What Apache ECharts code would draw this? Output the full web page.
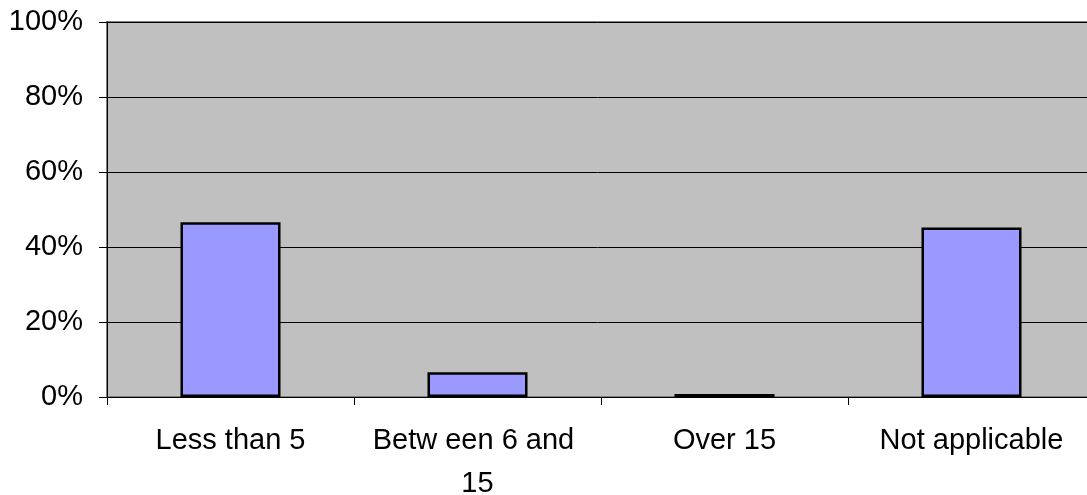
<!DOCTYPE html>
<html>
<head>
<meta charset="utf-8">
<script src="https://cdn.jsdelivr.net/npm/echarts@6/dist/echarts.min.js"></script>
<style>
html,body{margin:0;padding:0;background:#fff;}
#chart{width:1087px;height:495px;}
</style>
</head>
<body>
<div id="chart"></div>
<script>
var categories = ["Less than 5", "Betw een 6 and 15", "Over 15", "Not applicable"];
var values = [0.466, 0.066, 0.008, 0.452];
var yTicks = [0, 0.2, 0.4, 0.6, 0.8, 1.0];

var chart = echarts.init(document.getElementById('chart'), null, {renderer: 'canvas'});
var font = '"Liberation Sans", Arial, sans-serif';
chart.setOption({
  animation: false,
  grid: {
    left: 107, top: 22, right: -8, bottom: 98,
    outerBoundsMode: 'none', containLabel: false,
    show: true, backgroundColor: '#C0C0C0', borderColor: '#808080', borderWidth: 2
  },
  xAxis: {
    type: 'category',
    data: categories,
    axisLine: {show: true, lineStyle: {color: '#000', width: 1}},
    axisTick: {show: true, length: 8, lineStyle: {color: '#000'}},
    axisLabel: {
      interval: 0, color: '#000', fontSize: 29, fontFamily: font,
      margin: 22, lineHeight: 43, width: 210, overflow: 'break'
    },
    splitLine: {show: false}
  },
  yAxis: {
    type: 'value',
    min: yTicks[0], max: yTicks[yTicks.length - 1], interval: 0.2,
    axisLine: {show: true, lineStyle: {color: '#000', width: 1}},
    axisTick: {show: true, length: 8, lineStyle: {color: '#000'}},
    axisLabel: {
      color: '#000', fontSize: 29, fontFamily: font, margin: 24,
      formatter: function (v) { return Math.round(v * 100) + '%'; }
    },
    splitLine: {show: true, lineStyle: {color: '#000', width: 1}}
  },
  series: [{
    type: 'bar',
    data: values,
    barWidth: '40.5%',
    itemStyle: {color: '#9999FF', borderColor: '#000', borderWidth: 2.5}
  }]
});
</script>
</body>
</html>
